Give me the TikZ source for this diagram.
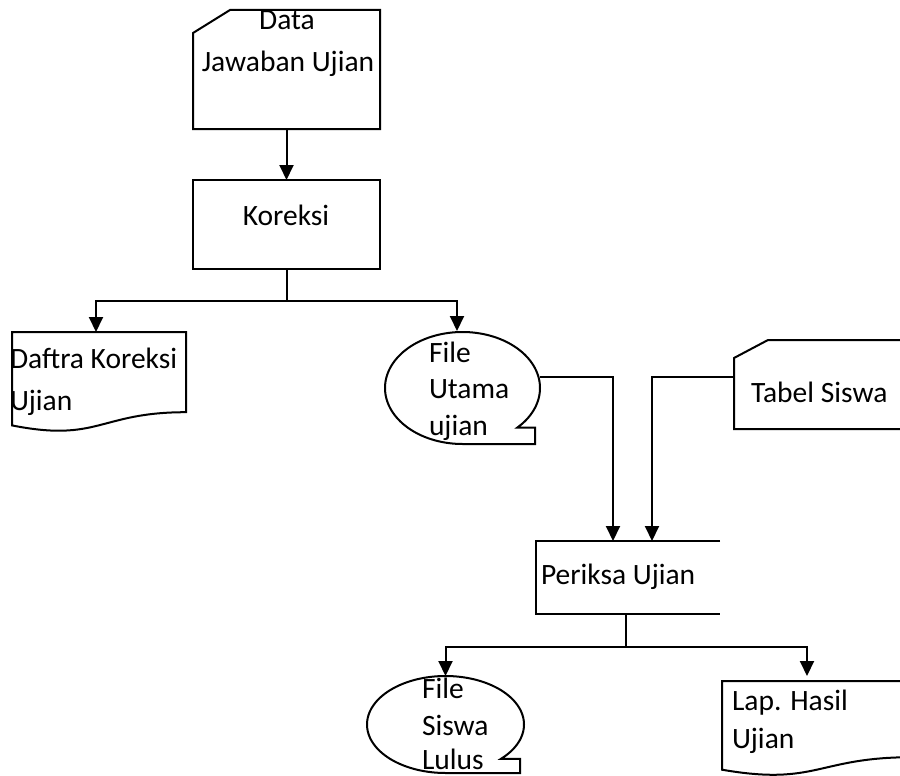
\documentclass[tikz,border=0pt]{standalone}
\usepackage{fontspec}
\setmainfont{Carlito}
\usetikzlibrary{arrows.meta,shapes.geometric}
\begin{document}
\begin{tikzpicture}[x=1pt, y=-1pt,
  every node/.style={inner sep=0pt, outer sep=0pt},
  shapeline/.style={draw=black, line width=2pt},
  link/.style={draw=black, line width=2pt},
  flow/.style={link, -{Triangle[width=14pt,length=15pt]}},
  lbl/.style={font=\fontsize{29.5}{35}\selectfont, text=black}
]
\useasboundingbox (0,0) rectangle (900,776);
\clip (0,0) rectangle (900,776);

% frames of the flowchart symbols (used for anchoring)
\node[minimum width=187pt, minimum height=119pt] (data) at (286.5,69.5) {};
\node[shapeline, minimum width=187pt, minimum height=89pt] (koreksi) at (286.5,224.5) {};
\node[minimum width=174pt, minimum height=100pt] (daftra) at (99,382) {};
\node[ellipse, minimum width=155pt, minimum height=112pt] (utama) at (462.5,388) {};
\node[minimum width=170pt, minimum height=89pt] (tabel) at (819,384.5) {};
\node[minimum width=184pt, minimum height=73pt] (periksa) at (628,577.5) {};
\node[ellipse, minimum width=157pt, minimum height=97pt] (lulus) at (445.5,724.5) {};
\node[minimum width=190pt, minimum height=95pt] (laporan) at (817,728.5) {};

% punched card: Data Jawaban Ujian
\draw[shapeline] ([yshift=-23pt]data.north west) -- ([xshift=37pt]data.north west)
  -- (data.north east) -- (data.south east) -- (data.south west) -- cycle;

% document: Daftra Koreksi Ujian
\draw[shapeline] (12,332) -- (186,332) -- (186,412.2)
  .. controls (99,412.2) and (99,442.7) .. (12,425.4) -- cycle;

% magnetic tape: File Utama ujian
\draw[shapeline] plot[domain=90:405, samples=120] ({462.5+77.5*cos(\x)},{388+56*sin(\x)})
  -- (535,427.6) -- (535,444) -- cycle;

% punched card: Tabel Siswa
\draw[shapeline] (734,358) -- (768,340) -- (904,340) -- (904,429) -- (734,429) -- cycle;

% open process box: Periksa Ujian
\draw[shapeline] (periksa.north east) -- (periksa.north west) -- (periksa.south west) -- (periksa.south east);

% magnetic tape: File Siswa Lulus
\draw[shapeline] plot[domain=90:405, samples=120] ({445.5+78.5*cos(\x)},{724.5+48.5*sin(\x)})
  -- (520,758.8) -- (520,773) -- cycle;

% document: Lap. Hasil Ujian
\draw[shapeline] (722,681) -- (912,681) -- (912,757.2)
  .. controls (817,757.2) and (817,786.2) .. (722,769.7) -- cycle;

% connectors
\draw[flow] (data.south) -- (koreksi.north);
\coordinate (ksplit) at (286.5,301);
\draw[link] (koreksi.south) -- (ksplit);
\draw[flow] (ksplit) -| ([xshift=-3pt]daftra.north);
\draw[flow, shorten >=1pt] (ksplit) -| ([xshift=-5.5pt]utama.north);
\draw[flow] ([yshift=11pt]utama.east) -| ([xshift=-15pt]periksa.north);
\draw[flow] ([yshift=7.5pt]tabel.west) -| ([xshift=24pt]periksa.north);
\coordinate (psplit) at (626,647);
\draw[link] ([xshift=-2pt]periksa.south) -- (psplit);
\draw[flow] (psplit) -| (lulus.north);
\draw[flow, shorten >=5pt] (psplit) -| ([xshift=-10pt]laporan.north);

% labels
\node[lbl, anchor=base] (t-data1) at (287,30) {Data};
\node[lbl, anchor=base] (t-data2) at (288,72) {Jawaban Ujian};
\node[lbl, anchor=base] (t-koreksi) at (286,225) {Koreksi};
\node[lbl, anchor=base west] (t-daftra1) at (10,368) {Daftra Koreksi};
\node[lbl, anchor=base west] (t-daftra2) at (10,410) {Ujian};
\node[lbl, anchor=base west] (t-utama1) at (429,362) {File};
\node[lbl, anchor=base west] (t-utama2) at (429,398) {Utama};
\node[lbl, anchor=base west] (t-utama3) at (429,435) {ujian};
\node[lbl, anchor=base west] (t-tabel) at (751,402) {Tabel Siswa};
\node[lbl, anchor=base west] (t-periksa) at (541,584) {Periksa Ujian};
\node[lbl, anchor=base west] (t-lulus1) at (422,698) {File};
\node[lbl, anchor=base west] (t-lulus2) at (422,735) {Siswa};
\node[lbl, anchor=base west] (t-lulus3) at (422,769) {Lulus};
\node[lbl, anchor=base west] (t-lap1) at (732,710) {Lap. Hasil};
\node[lbl, anchor=base west] (t-lap2) at (732,748) {Ujian};
\end{tikzpicture}
\end{document}
